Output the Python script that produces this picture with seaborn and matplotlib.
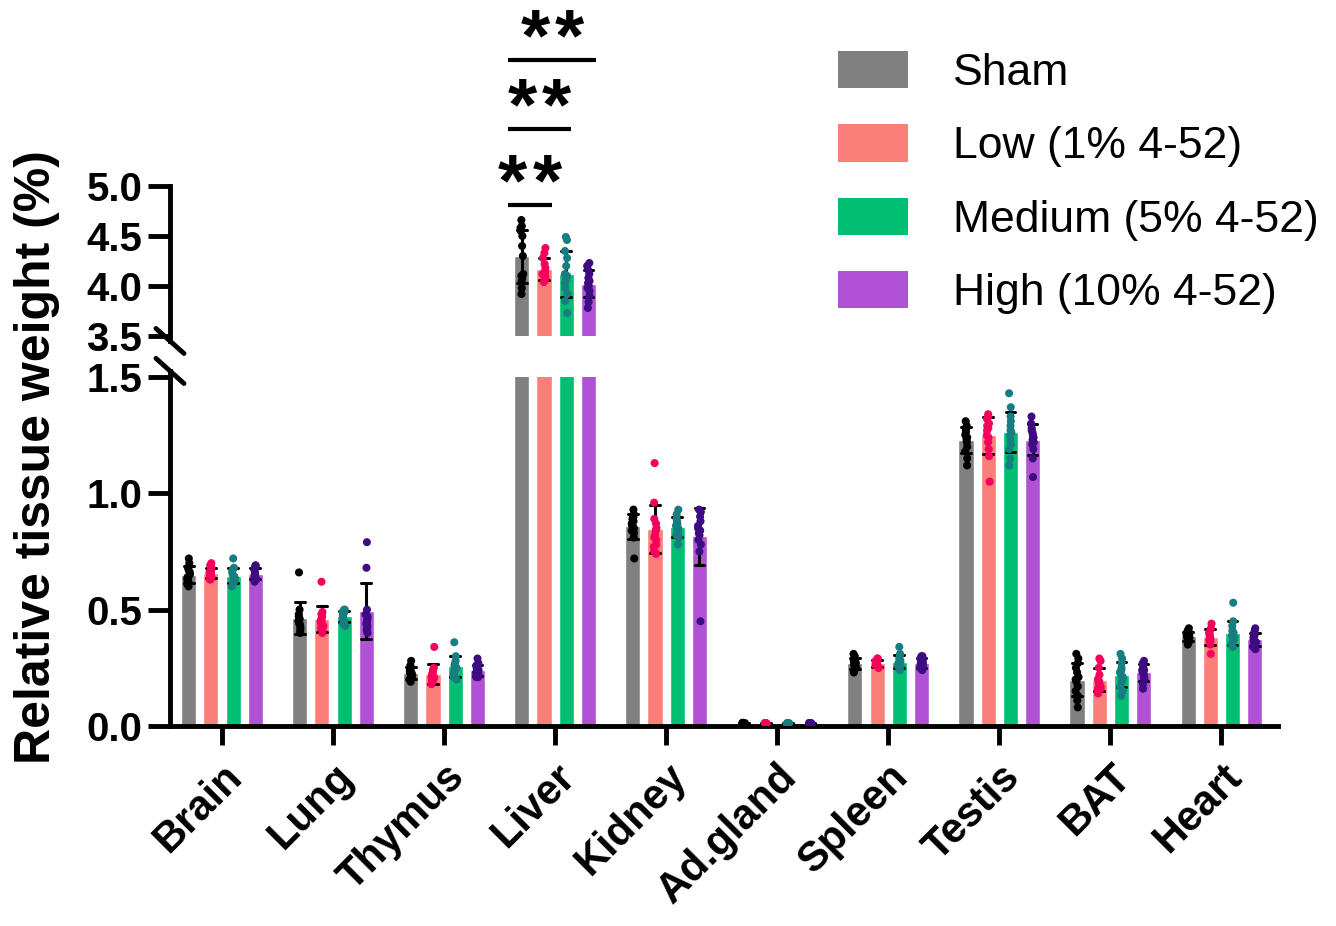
import warnings
import matplotlib
matplotlib.use('Agg')
import matplotlib.pyplot as plt
from matplotlib.patches import Patch
from matplotlib.ticker import FormatStrFormatter
import seaborn as sns
import pandas as pd
import numpy as np

warnings.filterwarnings('ignore')
np.random.seed(3)

# categories and groups
organs = ['Brain', 'Lung', 'Thymus', 'Liver', 'Kidney', 'Ad.gland',
          'Spleen', 'Testis', 'BAT', 'Heart']
groups = ['Sham', 'Low (1% 4-52)', 'Medium (5% 4-52)', 'High (10% 4-52)']
bar_colors = ['#808080', '#FA7F78', '#00BF73', '#B152D4']
dot_colors = ['#000000', '#F5005A', '#167E80', '#3F0B82']

# individual animals (Sham, Low, Medium, High)
brain = [
    [0.72, 0.70, 0.68, 0.67, 0.66, 0.65, 0.64, 0.63, 0.63, 0.62, 0.61, 0.60],
    [0.70, 0.69, 0.68, 0.67, 0.66, 0.66, 0.65, 0.65, 0.64, 0.64, 0.63, 0.63],
    [0.72, 0.68, 0.67, 0.66, 0.65, 0.64, 0.64, 0.63, 0.63, 0.62, 0.61, 0.60],
    [0.69, 0.69, 0.68, 0.67, 0.66, 0.65, 0.65, 0.64, 0.64, 0.63, 0.63, 0.62],
]
lung = [
    [0.66, 0.50, 0.48, 0.47, 0.46, 0.45, 0.44, 0.44, 0.43, 0.42, 0.41, 0.40],
    [0.62, 0.49, 0.48, 0.47, 0.46, 0.45, 0.45, 0.44, 0.43, 0.42, 0.41, 0.40],
    [0.50, 0.50, 0.49, 0.49, 0.48, 0.48, 0.47, 0.47, 0.46, 0.45, 0.44, 0.43],
    [0.79, 0.68, 0.50, 0.48, 0.47, 0.46, 0.45, 0.44, 0.43, 0.42, 0.41, 0.40],
]
thymus = [
    [0.28, 0.26, 0.25, 0.24, 0.23, 0.23, 0.22, 0.22, 0.21, 0.21, 0.20, 0.19],
    [0.34, 0.25, 0.24, 0.23, 0.22, 0.22, 0.21, 0.21, 0.20, 0.20, 0.19, 0.18],
    [0.36, 0.30, 0.28, 0.27, 0.26, 0.25, 0.25, 0.24, 0.23, 0.22, 0.21, 0.20],
    [0.29, 0.27, 0.26, 0.25, 0.24, 0.24, 0.23, 0.23, 0.22, 0.22, 0.21, 0.21],
]
liver = [
    [4.66, 4.60, 4.58, 4.55, 4.50, 4.40, 4.30, 4.12, 4.10, 4.08, 4.05, 3.98, 3.92],
    [4.38, 4.33, 4.28, 4.22, 4.18, 4.15, 4.13, 4.12, 4.10, 4.08, 4.06, 4.04],
    [4.49, 4.46, 4.35, 4.28, 4.20, 4.12, 4.10, 4.07, 4.03, 3.98, 3.92, 3.85, 3.73],
    [4.23, 4.20, 4.16, 4.12, 4.08, 4.05, 4.03, 4.00, 3.98, 3.95, 3.90, 3.84, 3.78],
]
kidney = [
    [0.93, 0.91, 0.90, 0.89, 0.88, 0.87, 0.86, 0.86, 0.85, 0.84, 0.83, 0.81, 0.72],
    [1.13, 0.96, 0.89, 0.87, 0.85, 0.84, 0.82, 0.81, 0.80, 0.78, 0.77, 0.75, 0.74],
    [0.93, 0.91, 0.89, 0.88, 0.87, 0.86, 0.85, 0.84, 0.83, 0.82, 0.81, 0.78],
    [0.93, 0.92, 0.90, 0.88, 0.86, 0.85, 0.84, 0.83, 0.82, 0.80, 0.78, 0.75, 0.45],
]
adgland = [
    [0.014, 0.013, 0.013, 0.012, 0.012, 0.011, 0.011, 0.010],
    [0.013, 0.013, 0.012, 0.012, 0.011, 0.011, 0.010, 0.010],
    [0.013, 0.012, 0.012, 0.011, 0.011, 0.010, 0.010, 0.009],
    [0.013, 0.013, 0.012, 0.012, 0.011, 0.011, 0.010, 0.010],
]
spleen = [
    [0.31, 0.30, 0.29, 0.28, 0.28, 0.27, 0.27, 0.26, 0.26, 0.25, 0.24, 0.23],
    [0.29, 0.29, 0.28, 0.28, 0.27, 0.27, 0.27, 0.26, 0.26, 0.26, 0.25, 0.25],
    [0.34, 0.31, 0.30, 0.29, 0.28, 0.27, 0.27, 0.26, 0.26, 0.25, 0.25, 0.24],
    [0.30, 0.30, 0.29, 0.28, 0.28, 0.27, 0.27, 0.26, 0.26, 0.25, 0.25, 0.24],
]
testis = [
    [1.31, 1.29, 1.28, 1.27, 1.26, 1.25, 1.24, 1.23, 1.22, 1.20, 1.18, 1.15, 1.12],
    [1.34, 1.33, 1.32, 1.30, 1.29, 1.28, 1.27, 1.25, 1.24, 1.22, 1.19, 1.16, 1.05],
    [1.43, 1.37, 1.33, 1.31, 1.29, 1.27, 1.26, 1.25, 1.23, 1.21, 1.19, 1.15, 1.12],
    [1.33, 1.30, 1.28, 1.27, 1.26, 1.25, 1.24, 1.23, 1.22, 1.21, 1.19, 1.15, 1.07],
]
bat = [
    [0.31, 0.29, 0.27, 0.25, 0.23, 0.21, 0.20, 0.19, 0.17, 0.15, 0.13, 0.11, 0.08],
    [0.29, 0.28, 0.25, 0.22, 0.20, 0.19, 0.18, 0.17, 0.16, 0.16, 0.15, 0.14],
    [0.31, 0.29, 0.27, 0.25, 0.24, 0.23, 0.22, 0.21, 0.20, 0.19, 0.17, 0.15, 0.13],
    [0.28, 0.27, 0.26, 0.26, 0.25, 0.24, 0.24, 0.23, 0.22, 0.21, 0.20, 0.18, 0.16],
]
heart = [
    [0.42, 0.41, 0.40, 0.40, 0.39, 0.39, 0.38, 0.38, 0.38, 0.37, 0.36, 0.35],
    [0.44, 0.42, 0.41, 0.40, 0.39, 0.38, 0.38, 0.37, 0.37, 0.36, 0.35, 0.31],
    [0.53, 0.45, 0.43, 0.41, 0.40, 0.39, 0.38, 0.38, 0.37, 0.36, 0.35, 0.34],
    [0.42, 0.41, 0.40, 0.39, 0.38, 0.37, 0.37, 0.36, 0.36, 0.35, 0.34, 0.33],
]

# significance brackets on liver: (start offset, end offset, height)
sig_lines = [(-0.42, -0.03, 4.81), (-0.42, 0.14, 5.57), (-0.42, 0.37, 6.26)]
sig_stars = 2

all_organs = [brain, lung, thymus, liver, kidney, adgland, spleen, testis, bat, heart]
rows = []
for organ, per_group in zip(organs, all_organs):
    for g, vals in zip(groups, per_group):
        for v in vals:
            rows.append((organ, g, v))
df = pd.DataFrame(rows, columns=['organ', 'group', 'value'])

sns.set_style('ticks')
plt.rcParams['font.family'] = ['Liberation Sans', 'DejaVu Sans']
plt.rcParams.update({'text.color': 'black', 'axes.edgecolor': 'black',
                     'xtick.color': 'black', 'ytick.color': 'black',
                     'axes.labelcolor': 'black'})

W, H = 1336, 926
fig = plt.figure(figsize=(W / 100, H / 100), dpi=100)


def px_axes(left, top, right, bottom):
    return fig.add_axes([left / W, 1 - bottom / H, (right - left) / W, (bottom - top) / H])


ax_lo = px_axes(170, 377, 1278, 726)
ax_hi = px_axes(170, 6, 1278, 336)
ax_lo.set_ylim(0, 1.5)
ax_hi.set_ylim(3.5, 6.8)

for ax in (ax_lo, ax_hi):
    sns.barplot(data=df, x='organ', y='value', hue='group', order=organs,
                hue_order=groups, palette=bar_colors, saturation=1,
                errorbar='sd', capsize=0.35, width=0.8, gap=0.32,
                err_kws={'color': 'black', 'linewidth': 2.2},
                legend=False, ax=ax)

sns.stripplot(data=df[df.organ != 'Liver'], x='organ', y='value', hue='group',
              order=organs, hue_order=groups, palette=dot_colors, dodge=True,
              jitter=0.055, size=5.8, legend=False, ax=ax_lo)
sns.stripplot(data=df[df.organ == 'Liver'], x='organ', y='value', hue='group',
              order=organs, hue_order=groups, palette=dot_colors, dodge=True,
              jitter=0.055, size=5.8, legend=False, ax=ax_hi)

for ax in (ax_lo, ax_hi):
    ax.set_xlim(-0.468, 9.51)
    ax.set_xlabel('')
    ax.set_ylabel('')
    ax.spines['left'].set_linewidth(3.5)
    ax.tick_params(axis='y', length=16, width=3.5, labelsize=29, pad=4)
    ax.yaxis.set_major_formatter(FormatStrFormatter('%.1f'))

ax_lo.set_ylim(0, 1.5)
ax_hi.set_ylim(3.5, 6.8)
ax_lo.set_yticks([0, 0.5, 1.0, 1.5])
ax_hi.set_yticks([3.5, 4.0, 4.5, 5.0])

sns.despine(ax=ax_lo)
ax_lo.spines['left'].set_bounds(0, 1.526)
ax_lo.spines['bottom'].set_linewidth(3.5)
ax_lo.tick_params(axis='x', length=14, width=3.5, labelsize=30, pad=8)
ax_lo.set_xticks(range(len(organs)))
ax_lo.set_xticklabels(organs, rotation=45, ha='right', rotation_mode='anchor')

ax_hi.spines[['top', 'right', 'bottom']].set_visible(False)
ax_hi.spines['left'].set_bounds(3.45, 5.0)
ax_hi.tick_params(axis='x', bottom=False, labelbottom=False)

for lab in ax_lo.get_xticklabels() + ax_lo.get_yticklabels() + ax_hi.get_yticklabels():
    lab.set_fontweight('bold')

# axis break marks
dx = 14 / 1108
ax_hi.plot([-dx, dx], [3.45 + 0.125, 3.45 - 0.125], color='black', lw=3.5,
           transform=ax_hi.get_yaxis_transform(), clip_on=False)
ax_lo.plot([-dx, dx], [1.526 + 0.054, 1.526 - 0.054], color='black', lw=3.5,
           transform=ax_lo.get_yaxis_transform(), clip_on=False)

# significance: bars with two spaced asterisks above
liver_x = organs.index('Liver')
star_step = 0.31
for x0, x1, y in sig_lines:
    ax_hi.plot([liver_x + x0, liver_x + x1], [y, y], color='black', lw=3, solid_capstyle='butt')
    mid = liver_x + (x0 + x1) / 2
    for k in range(sig_stars):
        sx = mid + (k - (sig_stars - 1) / 2) * star_step
        ax_hi.text(sx, y, '*', ha='center', va='baseline', fontsize=54, fontweight='bold')

fig.text(0.028, 0.506, 'Relative tissue weight (%)', rotation=90, ha='center', va='center',
         fontsize=36, fontweight='bold')

handles = [Patch(facecolor=c, edgecolor='none') for c in bar_colors]
fig.legend(handles, groups, loc='upper left', bbox_to_anchor=(838 / W, 1 - 51 / H),
           frameon=False, fontsize=32, handlelength=1.58, handleheight=0.92,
           handletextpad=1.01, labelspacing=0.68, borderpad=0, borderaxespad=0)

fig.savefig('out.png', dpi=100)
